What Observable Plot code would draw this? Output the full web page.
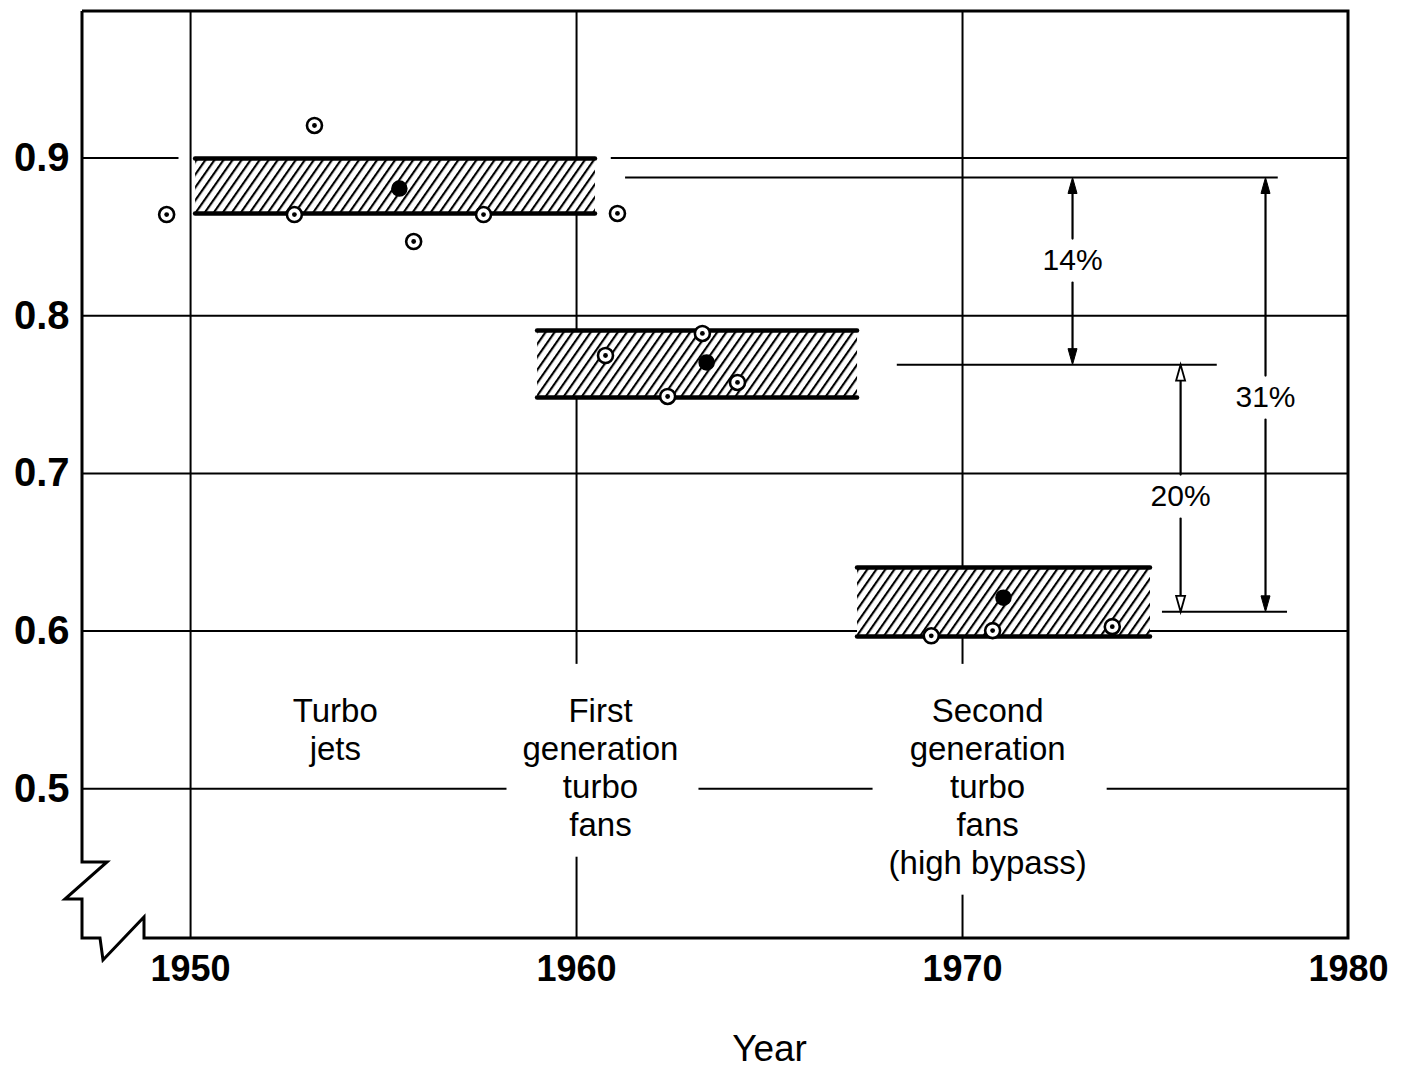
<!DOCTYPE html>
<html><head><meta charset="utf-8">
<script src="https://cdn.jsdelivr.net/npm/d3@7"></script>
<script src="https://cdn.jsdelivr.net/npm/@observablehq/plot@0.6"></script>
<style>html,body{margin:0;padding:0;background:#fff;overflow:hidden}</style>
</head><body><div id="chart"></div>
<script>
// ---- data ----
const xTicks = [1950, 1960, 1970, 1980];
const yTicks = [0.5, 0.6, 0.7, 0.8, 0.9];
const xDomain = [1947.2, 1980];
const yDomain = [0.405, 0.993];
const xTitle = "Year";
const xTitleYear = 1965;

// gridline interruption (0.9 line hidden around the turbojet band)
const gridGapY = [0.9];
const gridGapFrom = [1949.7];
const gridGapTo = [1960.9];

// technology bands (hatched)
const bandStart = [1950.13, 1958.99, 1967.28];
const bandEnd = [1960.49, 1967.28, 1974.87];
const bandTop = [0.8997, 0.7906, 0.6403];
const bandBottom = [0.8649, 0.7481, 0.5965];

// engine data points
const pointYears  = [1949.38, 1953.21, 1952.69, 1955.41, 1955.78, 1957.59, 1961.06,
                     1960.75, 1963.26, 1963.37, 1962.36, 1964.17,
                     1969.19, 1971.06, 1970.78, 1973.88];
const pointValues = [0.8642, 0.9207, 0.8642, 0.8807, 0.8471, 0.8642, 0.8649,
                     0.7748, 0.7888, 0.7704, 0.7488, 0.7577,
                     0.5970, 0.6212, 0.6003, 0.6028];
const pointFilled = [false, false, false, true, false, false, false,
                     false, false, true, false, false,
                     false, true, false, false];

// category labels
const categoryLabels = ["Turbo\njets", "First\ngeneration\nturbo\nfans", "Second\ngeneration\nturbo\nfans\n(high bypass)"];
const categoryX = [1953.75, 1960.62, 1970.65];
const categoryY = 0.5595;

// reference levels for the reductions
const refLevels = [0.8877, 0.769, 0.6122];
const refStart = [1961.27, 1968.31, 1975.18];
const refEnd = [1978.18, 1976.6, 1978.42];

// reduction arrows
const reductionLabels = ["14%", "20%", "31%"];
const reductionX = [1972.85, 1975.65, 1977.85];
const reductionFrom = [0.8877, 0.769, 0.8877];
const reductionTo = [0.769, 0.6122, 0.6122];
const reductionLabelY = [0.835, 0.6853, 0.7481];
const reductionHeadFilled = [true, false, true];

// ---- tables built from the arrays ----
const gridH = [];
for (const y of yTicks) {
  const gi = gridGapY.indexOf(y);
  if (gi < 0) gridH.push({y, x1: xDomain[0], x2: xDomain[1]});
  else {
    gridH.push({y, x1: xDomain[0], x2: gridGapFrom[gi]});
    gridH.push({y, x1: gridGapTo[gi], x2: xDomain[1]});
  }
}
const gridV = xTicks.filter(d => d < xDomain[1]);
const bands = bandStart.map((s, i) => ({x1: s, x2: bandEnd[i], top: bandTop[i], bottom: bandBottom[i]}));
const points = pointYears.map((x, i) => ({x, y: pointValues[i], filled: pointFilled[i]}));
const categories = categoryLabels.map((t, i) => ({text: t, x: categoryX[i], y: categoryY}));
const refs = refLevels.map((y, i) => ({y, x1: refStart[i], x2: refEnd[i]}));
const reductions = reductionLabels.map((t, i) => ({text: t, x: reductionX[i], from: reductionFrom[i], to: reductionTo[i], ly: reductionLabelY[i], filled: reductionHeadFilled[i]}));
const arrows = reductions.flatMap(r => [
  {x: r.x, from: r.ly, to: r.from, filled: r.filled},
  {x: r.x, from: r.ly, to: r.to, filled: r.filled}
]);

// narrow arrowhead symbol: tip at the origin, base below
const HEAD_LEN = 16, HEAD_HALF = 4.5;
const narrowHead = {
  draw(ctx, size) {
    ctx.moveTo(0, 0);
    ctx.lineTo(HEAD_HALF, HEAD_LEN);
    ctx.lineTo(-HEAD_HALF, HEAD_LEN);
    ctx.closePath();
  }
};

// frame with axis breaks, drawn from the plot dimensions
function frameWithBreak(index, scales, values, dimensions) {
  const {width, height, marginLeft, marginRight, marginTop, marginBottom} = dimensions;
  const L = marginLeft, R = width - marginRight, T = marginTop, B = height - marginBottom;
  const pts = [[L, T], [R, T], [R, B], [L + 62, B], [L + 62, B - 21], [L + 21, B + 22], [L + 18, B],
               [L, B], [L, B - 39], [L - 17, B - 39], [L + 25, B - 76], [L, B - 76], [L, T]];
  const p = document.createElementNS("http://www.w3.org/2000/svg", "path");
  p.setAttribute("d", "M" + pts.map(q => q.join(",")).join("L"));
  p.setAttribute("fill", "none");
  p.setAttribute("stroke", "black");
  p.setAttribute("stroke-width", "3");
  p.setAttribute("stroke-linejoin", "miter");
  return p;
}

const FONT = "'Liberation Sans', Arial, Helvetica, sans-serif";

const chart = Plot.plot({
  width: 1401,
  height: 1067,
  marginLeft: 82,
  marginRight: 53,
  marginTop: 11,
  marginBottom: 129,
  style: {fontFamily: FONT, background: "white", color: "black"},
  x: {domain: xDomain, axis: null},
  y: {domain: yDomain, axis: null},
  marks: [
    Plot.ruleY(gridH, {y: "y", x1: "x1", x2: "x2", stroke: "black", strokeWidth: 2}),
    Plot.ruleX(gridV, {x: d => d, stroke: "black", strokeWidth: 2}),
    Plot.ruleY(refs, {y: "y", x1: "x1", x2: "x2", stroke: "black", strokeWidth: 2}),
    Plot.rect(bands, {x1: "x1", x2: "x2", y1: "bottom", y2: "top", fill: "white"}),
    Plot.rect(bands, {x1: "x1", x2: "x2", y1: "bottom", y2: "top", fill: "black", ariaDescription: "hatch"}),
    Plot.ruleY(bands, {y: "top", x1: "x1", x2: "x2", stroke: "black", strokeWidth: 4.5, strokeLinecap: "round"}),
    Plot.ruleY(bands, {y: "bottom", x1: "x1", x2: "x2", stroke: "black", strokeWidth: 4.5, strokeLinecap: "round"}),
    frameWithBreak,
    Plot.arrow(arrows, {x1: "x", y1: "from", x2: "x", y2: "to", insetStart: 22, insetEnd: 8, headLength: 0, stroke: "black", strokeWidth: 2.2}),
    Plot.dot(arrows.filter(d => d.filled), {x: "x", y: "to", symbol: narrowHead, r: 5, rotate: d => d.to > d.from ? 0 : 180, fill: "black", stroke: "black", strokeWidth: 1}),
    Plot.dot(arrows.filter(d => !d.filled), {x: "x", y: "to", symbol: narrowHead, r: 5, rotate: d => d.to > d.from ? 0 : 180, fill: "white", stroke: "black", strokeWidth: 1.8}),
    Plot.dot(points.filter(d => !d.filled), {x: "x", y: "y", r: 7.5, fill: "white", stroke: "black", strokeWidth: 2.6}),
    Plot.dot(points.filter(d => !d.filled), {x: "x", y: "y", r: 2.4, fill: "black"}),
    Plot.dot(points.filter(d => d.filled), {x: "x", y: "y", r: 7.5, fill: "black", stroke: "black", strokeWidth: 1.5}),
    Plot.text(categories, {x: "x", y: "y", text: "text", lineAnchor: "top", lineHeight: 1.15, fontSize: 33, fill: "black", ariaDescription: "category"}),
    Plot.text(reductions, {x: "x", y: "ly", text: "text", fontSize: 30, fill: "black"}),
    Plot.text([xTitle], {x: xTitleYear, frameAnchor: "bottom", dy: 122, text: d => d, fontSize: 37, fill: "black"}),
    Plot.axisY({ticks: yTicks, tickSize: 0, tickPadding: 13, tickFormat: d3.format(".1f"), fontSize: 40, fontWeight: "bold", label: null, fill: "black"}),
    Plot.axisX({ticks: xTicks, tickSize: 0, tickPadding: 17, tickFormat: d => String(d), fontSize: 36, fontWeight: "bold", label: null, fill: "black"})
  ]
});

document.getElementById("chart").append(chart);

// hatch pattern
const NS = "http://www.w3.org/2000/svg";
const defs = document.createElementNS(NS, "defs");
const pat = document.createElementNS(NS, "pattern");
pat.setAttribute("id", "hatch");
pat.setAttribute("patternUnits", "userSpaceOnUse");
pat.setAttribute("width", "7.4");
pat.setAttribute("height", "20");
pat.setAttribute("patternTransform", "rotate(35)");
const pl = document.createElementNS(NS, "line");
pl.setAttribute("x1", "1"); pl.setAttribute("y1", "-2");
pl.setAttribute("x2", "1"); pl.setAttribute("y2", "22");
pl.setAttribute("stroke", "black");
pl.setAttribute("stroke-width", "2.3");
pat.append(pl);
defs.append(pat);
chart.insertBefore(defs, chart.firstChild);
const hg = chart.querySelector('g[aria-description="hatch"]');
if (hg) {
  hg.setAttribute("fill", "url(#hatch)");
  hg.querySelectorAll("rect").forEach(r => r.setAttribute("fill", "url(#hatch)"));
}

// white boxes behind the category labels
const cg = chart.querySelector('g[aria-description="category"]');
if (cg) {
  cg.querySelectorAll("text").forEach(t => {
    const bb = t.getBBox();
    const r = document.createElementNS(NS, "rect");
    r.setAttribute("x", bb.x - 16);
    r.setAttribute("y", bb.y - 28);
    r.setAttribute("width", bb.width + 36);
    r.setAttribute("height", bb.height + 42);
    r.setAttribute("fill", "white");
    r.setAttribute("stroke", "none");
    const tr = t.getAttribute("transform");
    if (tr) r.setAttribute("transform", tr);
    cg.insertBefore(r, t);
  });
}
</script>
</body></html>
